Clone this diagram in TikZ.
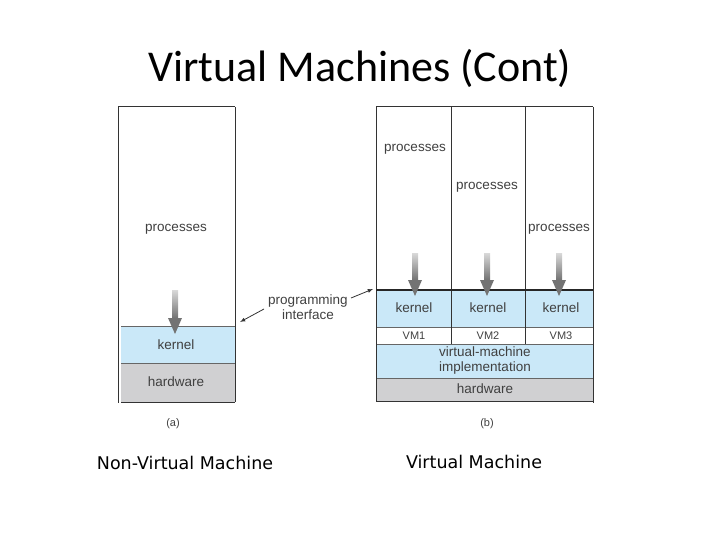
\documentclass[tikz,border=0pt]{standalone}
\usepackage{fontspec}
\setmainfont{Liberation Sans}
\newfontfamily\titlef{Carlito}
\newfontfamily\capf{DejaVu Sans}
\begin{document}
\begin{tikzpicture}[x=1pt,y=-1pt,
  lbl/.style={font=\fontsize{13.5}{14}\selectfont,text=black!75},
  small/.style={font=\fontsize{11}{12}\selectfont,text=black!75},
  frame/.style={draw=black!80,line width=1pt}]
\useasboundingbox (0,0) rectangle (720,540);
\definecolor{kb}{RGB}{202,232,248}
\definecolor{hw}{RGB}{208,208,210}
\node[font=\titlef\fontsize{44}{46}\selectfont] (title) at (360,68) {Virtual Machines (Cont)};
% left
\fill[kb] (121,326) rectangle (235,363);
\fill[hw] (121,363) rectangle (235,402);
\draw[black!60] (121,326) -- (235,326) (121,363) -- (235,363);
\draw[frame] (118,107) -- (118,403) (118,107) -- (235,107) (235,107) -- (235,402) (121,402) -- (235,402);
\node[lbl] (pa) at (176,229) {processes};
\node[lbl] (ka) at (176,345) {kernel};
\node[lbl] (ha) at (176,382) {hardware};
\node[small] (a) at (173,424) {(a)};
\shade[top color=black!15,bottom color=black!55] (172,290) rectangle (178,318);
\fill[black!55] (168,318) -- (182,318) -- (175,334) -- cycle;
% right
\fill[kb] (377,290) rectangle (593,327);
\fill[kb] (377,344) rectangle (593,378);
\fill[hw] (377,378) rectangle (593,401);
\draw[black!60] (377,327) -- (593,327) (377,344) -- (593,344) (377,378) -- (593,378);
\draw[frame] (376,107) -- (376,402) (376,107) -- (593,107) (593,107) -- (593,403) (376,401) -- (593,401);
\draw[black!80,line width=0.8pt] (451,107) -- (451,344) (525,107) -- (525,344);
\draw[black!85,line width=2pt] (376,290) -- (593,290);
\foreach \x/\y/\n in {415/149/1,487/187/2,559/229/3}{
  \node[lbl] (p\n) at (\x,\y) {processes};
  \shade[top color=black!15,bottom color=black!55] (\x-3,253) rectangle (\x+3,280);
  \fill[black!55] (\x-7,280) -- (\x+7,280) -- (\x,296) -- cycle;
}
\foreach \x/\n in {414/1,488/2,561/3}{
  \node[lbl] (k\n) at (\x,308) {kernel};
  \node[small] (v\n) at (\x,336) {VM\n};
}
\node[lbl,align=center,font=\fontsize{13.5}{15}\selectfont] (vmi) at (485,361) {virtual-machine\\implementation};
\node[lbl] (hb) at (485,389) {hardware};
\node[small] (b) at (487,424) {(b)};
% programming interface
\node[lbl,align=center,font=\fontsize{13.5}{15}\selectfont] (pi) at (308,307) {programming\\interface};
\coordinate (la) at (240,322);
\coordinate (ra) at (373,289);
\draw[-latex,black!80,thick] (264,309) -- (la);
\draw[-latex,black!80,thick] (351,298) -- (ra);
\node[font=\capf\fontsize{17.5}{18}\selectfont] (c1) at (185,463) {Non-Virtual Machine};
\node[font=\capf\fontsize{17.5}{18}\selectfont] (c2) at (474,462) {Virtual Machine};
\end{tikzpicture}
\end{document}
